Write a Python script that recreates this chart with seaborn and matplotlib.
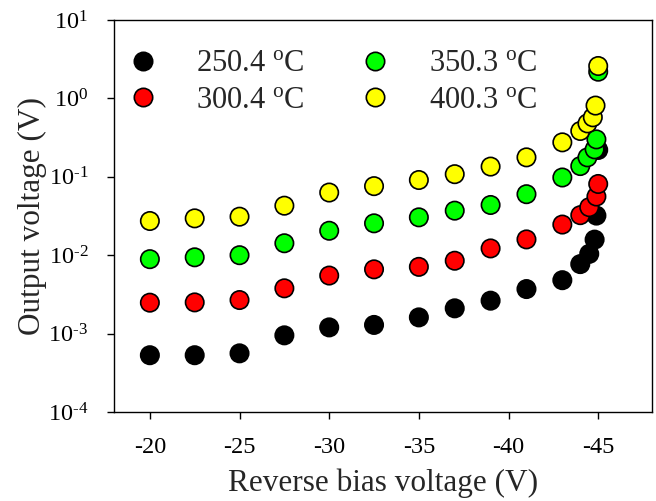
import matplotlib
matplotlib.use("Agg")
import matplotlib.pyplot as plt
import seaborn as sns
import pandas as pd

# Measured points, one list per temperature
temps = ["250.4 $^{\\rm o}$C", "300.4 $^{\\rm o}$C", "350.3 $^{\\rm o}$C", "400.3 $^{\\rm o}$C"]
colors = ["#000000", "#FF0000", "#00FF00", "#FFFF00"]

x_250 = [-20, -22.5, -25, -27.5, -30, -32.5, -35, -37, -39, -41, -43, -44, -44.5, -44.8, -44.9, -45]
y_250 = [5.3e-4, 5.3e-4, 5.6e-4, 9.5e-4, 1.2e-3, 1.29e-3, 1.61e-3, 2.1e-3, 2.63e-3, 3.7e-3,
         4.8e-3, 7.7e-3, 1.04e-2, 1.58e-2, 3.2e-2, 0.22]

x_300 = [-20, -22.5, -25, -27.5, -30, -32.5, -35, -37, -39, -41, -43, -44, -44.5, -44.9, -45]
y_300 = [2.48e-3, 2.5e-3, 2.68e-3, 3.78e-3, 5.5e-3, 6.6e-3, 7.1e-3, 8.5e-3, 1.22e-2, 1.59e-2,
         2.46e-2, 3.24e-2, 4.1e-2, 5.6e-2, 8.1e-2]

x_350 = [-20, -22.5, -25, -27.5, -30, -32.5, -35, -37, -39, -41, -43, -44, -44.4, -44.8, -44.9, -45]
y_350 = [8.9e-3, 9.4e-3, 1.0e-2, 1.42e-2, 2.05e-2, 2.55e-2, 3.04e-2, 3.7e-2, 4.37e-2, 6.0e-2,
         9.8e-2, 0.137, 0.177, 0.224, 0.30, 2.19]

x_400 = [-20, -22.5, -25, -27.5, -30, -32.5, -35, -37, -39, -41, -43, -44, -44.4, -44.7, -44.85, -45]
y_400 = [2.73e-2, 2.95e-2, 3.1e-2, 4.28e-2, 6.3e-2, 7.6e-2, 9.1e-2, 0.108, 0.135, 0.177,
         0.275, 0.384, 0.48, 0.574, 0.81, 2.59]

x_ticks = [-20, -25, -30, -35, -40, -45]
y_ticks = [1e-4, 1e-3, 1e-2, 1e-1, 1e0, 1e1]
y_tick_labels = ["10$^{\\text{-}4}$", "10$^{\\text{-}3}$", "10$^{\\text{-}2}$",
                 "10$^{\\text{-}1}$", "10$^{0}$", "10$^{1}$"]

sns.set_style("ticks")
plt.rcParams.update({
    "font.family": ["Liberation Serif", "DejaVu Serif"],
    "mathtext.fontset": "custom",
    "mathtext.rm": "Liberation Serif",
    "mathtext.it": "Liberation Serif:italic",
    "mathtext.bf": "Liberation Serif:bold",
    "axes.edgecolor": "black",
    "axes.linewidth": 1.0,
    "xtick.color": "black",
    "ytick.color": "black",
})

frames = []
for lab, xs, ys in zip(temps, [x_250, x_300, x_350, x_400], [y_250, y_300, y_350, y_400]):
    frames.append(pd.DataFrame({"bias": xs, "vout": ys, "temp": lab}))
df = pd.concat(frames, ignore_index=True)

fig = plt.figure(figsize=(6.56, 5.01), dpi=100)
ax = fig.add_axes([114 / 656, 89 / 501, 538 / 656, 392 / 501])

sns.scatterplot(
    data=df, x="bias", y="vout", hue="temp",
    palette=dict(zip(temps, colors)), hue_order=temps,
    s=175, edgecolor="black", linewidth=1.2, ax=ax, zorder=3,
)

ax.set_yscale("log")
ax.set_ylim(1e-4, 1e1)
ax.set_xlim(-18, -48)
ax.set_xticks(x_ticks)
ax.set_xticklabels([str(t) for t in x_ticks])
ax.set_yticks(y_ticks)
ax.set_yticklabels(y_tick_labels)
ax.minorticks_off()
ax.tick_params(axis="both", direction="out", length=5, width=1.0, labelsize=17.5)
ax.tick_params(axis="x", pad=13)
ax.tick_params(axis="y", pad=13.5)
for sp in ax.spines.values():
    sp.set_visible(True)
    sp.set_color("black")

ax.set_xlabel("Reverse bias voltage (V)", fontsize=22.5)
ax.set_ylabel("Output voltage (V)", fontsize=22.5)
ax.xaxis.set_label_coords(0.5, -0.143)
ax.yaxis.set_label_coords(-0.124, 0.5)

ax.legend(
    loc="upper left", bbox_to_anchor=(0.011, 0.925), ncol=2, frameon=False,
    fontsize=22, handlelength=1.5, handletextpad=1.0, columnspacing=1.55,
    labelspacing=0.25, borderpad=0, borderaxespad=0, markerscale=1.0,
)

fig.savefig("out.png", dpi=100)
